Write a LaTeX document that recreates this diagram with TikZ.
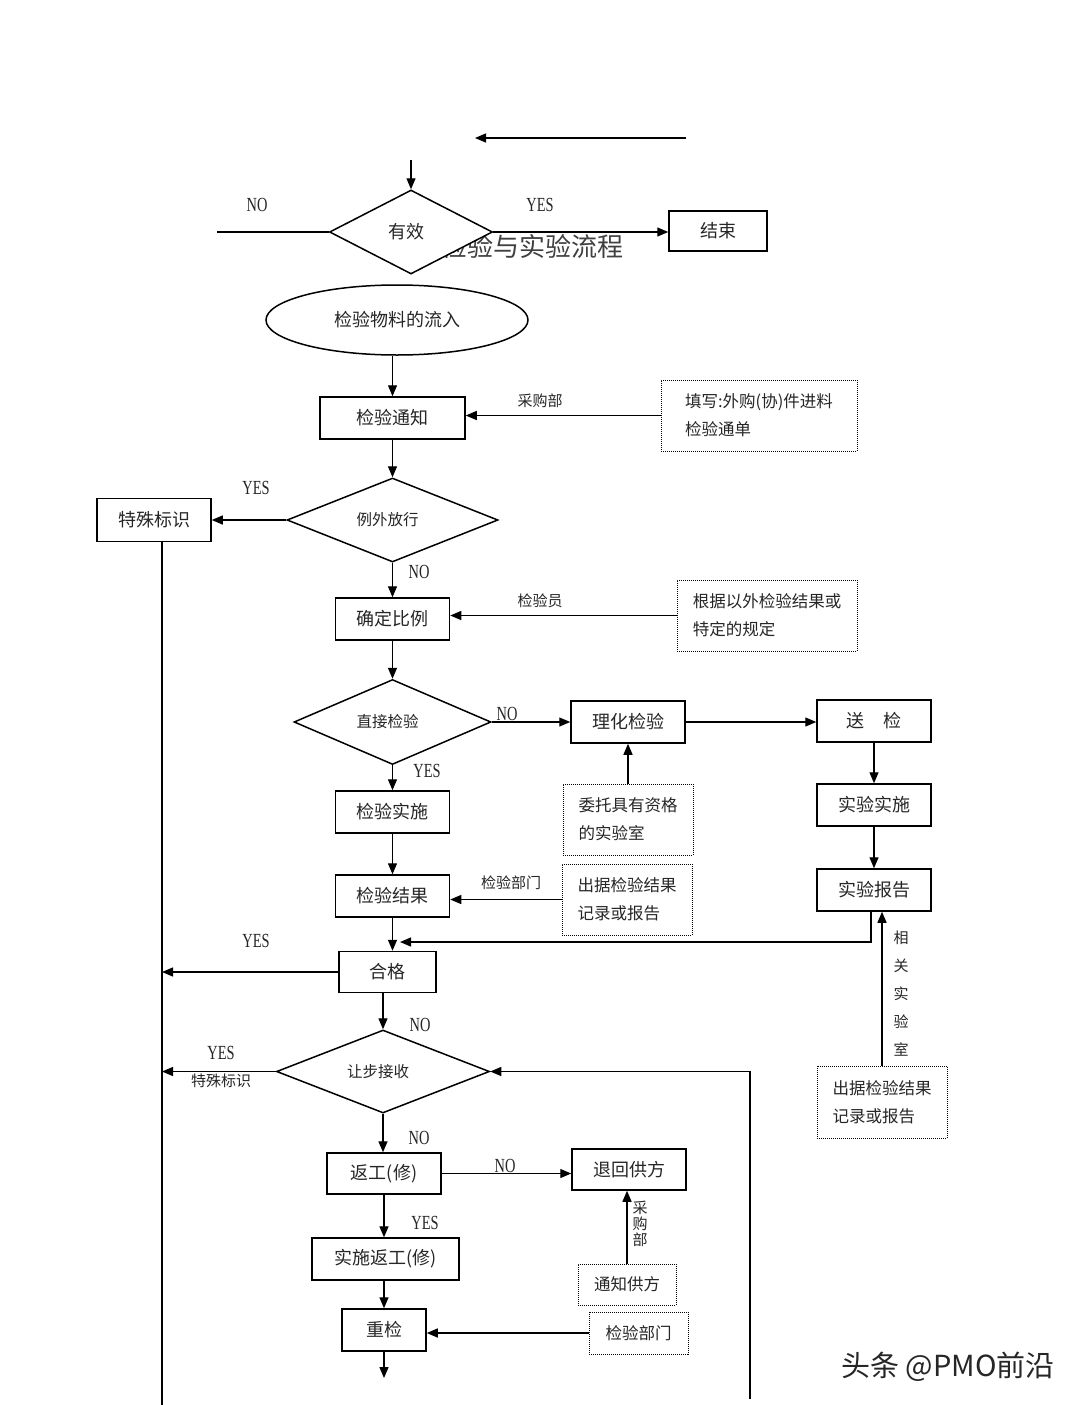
\documentclass[tikz,border=0pt]{standalone}
\usepackage{fontspec}
\setmainfont{Noto Sans CJK SC}
\newfontfamily\latinf{Liberation Serif}
\usetikzlibrary{shapes.geometric,arrows.meta}
\newcommand\ynt[1]{{\latinf\scalebox{0.72}[1]{#1}}}
\newcommand\dtxt[1]{\hspace*{-10pt}#1}
\tikzset{
 box/.style={draw, line width=1.5pt, inner sep=0pt, minimum width=114pt, minimum height=42pt, font=\fontsize{18}{18}\selectfont, text=black!85},
 dbox/.style={draw, densely dotted, line width=1pt, inner sep=0pt, font=\fontsize{16.5}{28}\selectfont, align=left, text=black!85},
 dia/.style={draw, diamond, fill=white, line width=1.5pt, inner sep=0pt, font=\fontsize{15.5}{15.5}\selectfont, text=black!85},
 arr/.style={line width=1.3pt, -{Triangle[length=11pt,width=9pt]}},
 ln/.style={line width=1.3pt},
 lbl/.style={inner sep=0pt, font=\fontsize{15}{15}\selectfont, text=black!85},
 yn/.style={inner sep=0pt, font=\fontsize{20}{20}\selectfont, text=black!85},
}
\begin{document}
\begin{tikzpicture}[x=1pt,y=-1pt]
\fill[white] (0,0) rectangle (1080,1405);
\useasboundingbox (0,0) rectangle (1080,1405);

% title (partly covered by the diamond)
\node[inner sep=0pt, font=\fontsize{26}{26}\selectfont, text=black!75] (title) at (532,247) {检验与实验流程};

% top part
\coordinate (ta1) at (686,138);
\coordinate (ta2) at (475,138);
\draw[arr] (ta1) -- (ta2);
\coordinate (v0) at (411,160);
\node[dia, minimum width=163pt, minimum height=84pt, font=\fontsize{18}{18}\selectfont] (valid) at (411,232) {\dtxt{有效}};
\draw[arr] (v0) -- (valid.north);
\coordinate (noend) at (217,232);
\draw[ln] (valid.west) -- (noend);
\node[box, minimum width=98pt, minimum height=40pt] (end) at (718,231) {结束};
\draw[arr] (valid.east) -- (end.west |- valid.east);
\node[yn] (yes0) at (540,205) {\ynt{YES}};
\node[yn] (no0) at (257,205) {\ynt{NO}};

% ellipse
\node[draw, ellipse, line width=1.5pt, minimum width=262pt, minimum height=70pt, inner sep=0pt, font=\fontsize{18}{18}\selectfont, text=black!85] (flow) at (397,320) {检验物料的流入};

\node[box, minimum width=145pt] (notice) at (392.5,418) {检验通知};
\draw[arr] (flow.south -| notice.north) -- (notice.north);
\node[dbox, minimum width=196pt, minimum height=71pt] (fillin) at (759,415.5) {填写:外购(协)件进料\\检验通单};
\draw[arr] (fillin.west) -- (notice.east |- fillin.west);
\node[lbl] (l1) at (540,401) {采购部};

% exception release
\node[dia, minimum width=211pt, minimum height=84pt] (except) at (392.5,520) {\dtxt{例外放行}};
\draw[arr] (notice.south) -- (except.north);
\node[box, minimum height=43pt] (special) at (154,520) {特殊标识};
\draw[arr] (except.west) -- (special.east);
\node[yn] (yes1) at (256,488) {\ynt{YES}};
\coordinate (ltop) at (162,541.5);
\coordinate (lbot) at (162,1405);
\draw[ln] (ltop) -- (lbot);

\node[box] (ratio) at (392.5,619) {确定比例};
\draw[arr] (except.south) -- (ratio.north);
\node[yn] (no1) at (419,572) {\ynt{NO}};
\node[dbox, minimum width=180pt, minimum height=71pt] (rule) at (767,615.5) {根据以外检验结果或\\特定的规定};
\draw[arr] (rule.west) -- (ratio.east |- rule.west);
\node[lbl] (l2) at (540,601) {检验员};

% direct inspection
\node[dia, minimum width=197pt, minimum height=85pt] (direct) at (392.5,722) {\dtxt{直接检验}};
\draw[arr] (ratio.south) -- (direct.north);
\node[box] (phys) at (628,722) {理化检验};
\draw[arr] (direct.east) -- (phys.west);
\node[yn] (no2) at (507,714) {\ynt{NO}};
\node[box] (send) at (874,721) {送\hspace{1.1em}检};
\draw[arr] (phys.east) -- (send.west |- phys.east);
\node[box] (exec) at (874,805) {实验实施};
\draw[arr] (send.south) -- (exec.north);
\node[box] (report) at (874,890) {实验报告};
\draw[arr] (exec.south) -- (report.north);
\node[dbox, minimum width=130pt, minimum height=71pt] (entrust) at (628,819.5) {委托具有资格\\的实验室};
\draw[arr] (entrust.north) -- (phys.south);

\node[box] (impl) at (392.5,812) {检验实施};
\draw[arr] (direct.south) -- (impl.north);
\node[yn] (yes2) at (427,771) {\ynt{YES}};
\node[box] (result) at (392.5,896) {检验结果};
\draw[arr] (impl.south) -- (result.north);
\node[dbox, minimum width=130pt, minimum height=71pt] (issue) at (627,899.5) {出据检验结果\\记录或报告};
\draw[arr] (issue.west) -- (result.east |- issue.west);
\node[lbl] (l3) at (511,883) {检验部门};

% pass
\node[box, minimum width=97pt, minimum height=41pt] (pass) at (387.5,972) {合格};
\draw[arr] (result.south) -- (result.south |- pass.north);
\coordinate (rr1) at (871,942);
\coordinate (rr2) at (400,942);
\draw[arr] (report.south -| rr1) -- (rr1) -- (rr2);
\node[dbox, minimum width=130pt, minimum height=72pt] (issue2) at (882,1102) {出据检验结果\\记录或报告};
\draw[arr] (issue2.north) -- (issue2.north |- report.south);
\node[lbl, align=center, font=\fontsize{15}{28}\selectfont] (l4) at (901,994) {相\\关\\实\\验\\室};
\coordinate (lp) at (162,972);
\draw[arr] (pass.west) -- (lp);
\node[yn] (yes3) at (256,941) {\ynt{YES}};

% concession
\node[dia, minimum width=213pt, minimum height=83pt] (concede) at (383,1071.5) {\dtxt{让步接收}};
\draw[arr] (pass.south -| concede.north) -- (concede.north);
\node[yn] (no3) at (420,1025) {\ynt{NO}};
\coordinate (lc) at (162,1071.5);
\draw[arr] (concede.west) -- (lc);
\node[yn] (yes4) at (221,1053) {\ynt{YES}};
\node[lbl] (l5) at (221,1081) {特殊标识};
\coordinate (rc1) at (750,1399);
\coordinate (rc2) at (750,1071.5);
\draw[arr] (rc1) -- (rc2) -- (concede.east);

% rework
\node[box, minimum height=41pt] (rework) at (384,1173.5) {返工(修)};
\draw[arr] (concede.south) -- (concede.south |- rework.north);
\node[yn] (no4) at (419,1138) {\ynt{NO}};
\node[box, minimum height=41pt] (return) at (629,1169.5) {退回供方};
\draw[arr] (rework.east) -- (return.west |- rework.east);
\node[yn] (no5) at (505,1166) {\ynt{NO}};
\node[dbox, minimum width=98pt, minimum height=41pt] (inform) at (627,1284.5) {通知供方};
\draw[arr] (inform.north) -- (inform.north |- return.south);
\node[lbl, align=center, font=\fontsize{15}{16}\selectfont] (l6) at (640,1224) {采\\购\\部};
\node[box, minimum width=147pt] (dorework) at (385.5,1259) {实施返工(修)};
\draw[arr] (rework.south) -- (rework.south |- dorework.north);
\node[yn] (yes5) at (425,1223) {\ynt{YES}};
\node[box, minimum width=84pt] (recheck) at (384,1330) {重检};
\draw[arr] (recheck.north |- dorework.south) -- (recheck.north);
\node[dbox, minimum width=99pt, minimum height=42pt] (dept) at (638.5,1333) {检验部门};
\draw[arr] (dept.west) -- (recheck.east |- dept.west);
\coordinate (rb) at (384,1378);
\draw[arr] (recheck.south) -- (rb);

% watermark
\node[inner sep=0pt, font=\fontsize{29}{29}\selectfont, text=black!85] (wm) at (948,1367) {头条 @PMO前沿};
\end{tikzpicture}
\end{document}
